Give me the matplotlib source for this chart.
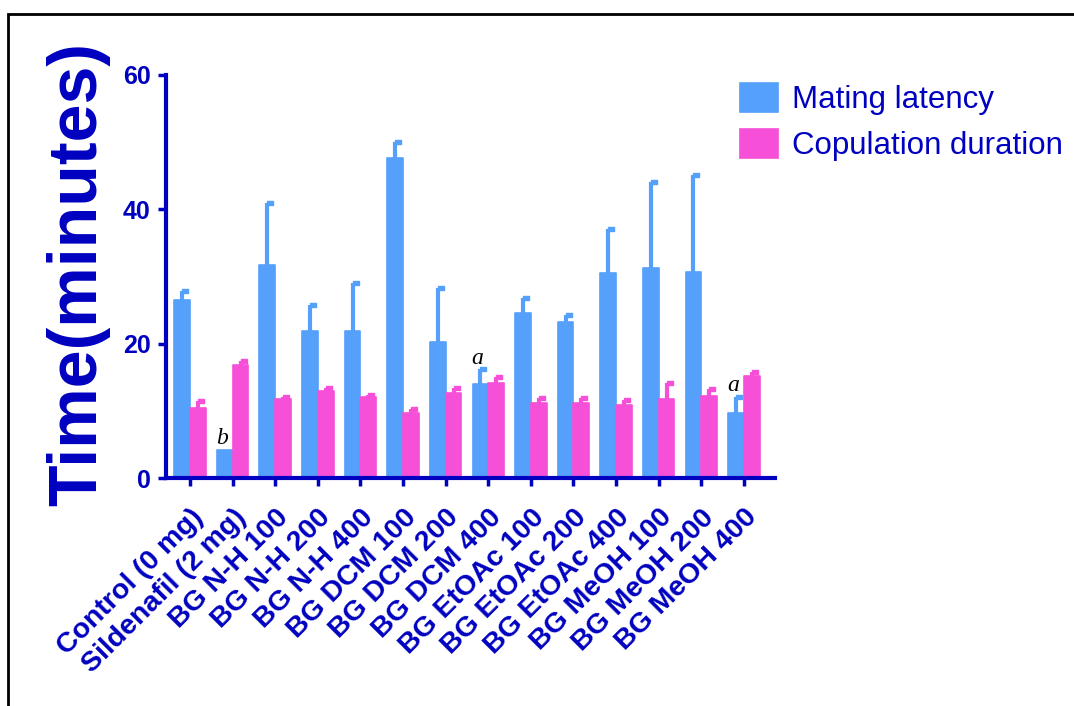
import matplotlib
matplotlib.use("Agg")
import matplotlib.pyplot as plt
import numpy as np
from matplotlib.patches import Rectangle
from matplotlib.path import Path
from matplotlib.transforms import ScaledTranslation

groups = ["Control (0 mg)", "Sildenafil (2 mg)", "BG N-H 100", "BG N-H 200", "BG N-H 400",
          "BG DCM 100", "BG DCM 200", "BG DCM 400", "BG EtOAc 100", "BG EtOAc 200",
          "BG EtOAc 400", "BG MeOH 100", "BG MeOH 200", "BG MeOH 400"]

# means and upper SEM (minutes)
latency = [26.5, 4.2, 31.7, 21.9, 21.9, 47.6, 20.2, 14.0, 24.5, 23.3, 30.5, 31.2, 30.7, 9.7]
latency_err = [1.4, 0.0, 9.2, 3.8, 7.1, 2.4, 8.1, 2.2, 2.3, 1.0, 6.5, 12.9, 14.4, 2.4]
duration = [10.4, 16.8, 11.8, 12.9, 12.1, 9.7, 12.6, 14.1, 11.2, 11.2, 10.9, 11.8, 12.2, 15.2]
duration_err = [1.0, 0.6, 0.3, 0.5, 0.2, 0.6, 0.8, 1.0, 0.7, 0.7, 0.7, 2.4, 1.0, 0.6]

# significance letters: (group index, letter)
marks = [(1, "b"), (7, "a"), (13, "a")]

yticks = [0, 20, 40, 60]

navy = "#0000C0"
blue = "#55A0FA"
pink = "#F550D7"

plt.rcParams["font.family"] = ["Liberation Sans", "DejaVu Sans"]

fig = plt.figure(figsize=(10.74, 7.06), dpi=100)
ax = fig.add_axes([0.1546, 0.3229, 0.567, 0.5709])

x = np.arange(len(groups))
w = 0.37

# half cap that sticks out to the right of the error line
cap = Path([(0, -0.35), (1, -0.35), (1, 0.35), (0, 0.35), (0, -0.35)],
           [Path.MOVETO, Path.LINETO, Path.LINETO, Path.LINETO, Path.CLOSEPOLY])

for vals, errs, col, off, lab in [(latency, latency_err, blue, -w / 2, "Mating latency"),
                                  (duration, duration_err, pink, w / 2, "Copulation duration")]:
    vals = np.array(vals)
    errs = np.array(errs)
    ax.bar(x + off, vals, w, color=col, edgecolor=col, linewidth=1.2,
           joinstyle="round", label=lab, zorder=2)
    has = errs > 0
    ax.vlines(x[has] + off, vals[has], vals[has] + errs[has], color=col, lw=3, zorder=2)
    ax.plot(x[has] + off, vals[has] + errs[has], ls="none", marker=cap, ms=9,
            color=col, mec=col, zorder=2)

for i, letter in marks:
    ax.text(i - w / 2 - 0.07, latency[i] + latency_err[i] + 0.1, letter,
            family="Liberation Serif", style="italic", fontsize=17,
            ha="center", va="bottom", color="black")

ax.set_xlim(-0.563, 13.73)
ax.set_ylim(0, 60)
ax.set_yticks(yticks)
ax.set_xticks(x)
ax.set_xticklabels(groups, rotation=45, ha="right", va="top", rotation_mode="anchor",
                   fontsize=20.5, fontweight="bold", color=navy)
shift = ScaledTranslation(-0.05, 0, fig.dpi_scale_trans)
for t in ax.get_xticklabels():
    t.set_transform(t.get_transform() + shift)
ax.tick_params(axis="y", labelsize=18, labelcolor=navy)
for t in ax.get_yticklabels():
    t.set_fontweight("bold")
ax.tick_params(colors=navy, width=2.5, length=6, pad=5)
ax.tick_params(axis="x", pad=13)

for s in ["top", "right"]:
    ax.spines[s].set_visible(False)
for s in ["left", "bottom"]:
    ax.spines[s].set_color(navy)
    ax.spines[s].set_linewidth(3)

ax.set_ylabel("Time(minutes)", fontsize=49, fontweight="bold", color=navy)
ax.yaxis.set_label_coords(-0.092, 0.506)

fig.legend(loc="upper left", bbox_to_anchor=(0.677, 0.9), frameon=False,
           fontsize=22.5, handlelength=1.24, handleheight=1.05, handletextpad=0.45,
           labelspacing=0.45, labelcolor=navy, borderaxespad=0)

# outer frame
fig.add_artist(Rectangle((8 / 1074, -0.1), 1.2, 0.98 + 0.1, fill=False,
                         edgecolor="black", lw=2, transform=fig.transFigure))

fig.savefig("out.png", dpi=100)
